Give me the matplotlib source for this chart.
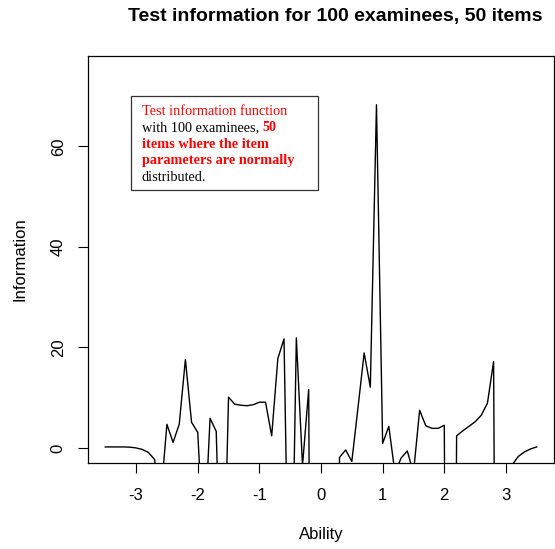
import matplotlib
matplotlib.use("Agg")
import matplotlib.pyplot as plt
from matplotlib.patches import Rectangle

# ability grid and test information
ability = [-3.5, -3.4, -3.3, -3.2, -3.1, -3.0, -2.9, -2.8, -2.7, -2.6,
           -2.5, -2.4, -2.3, -2.2, -2.1, -2.0, -1.9, -1.8, -1.7, -1.6,
           -1.5, -1.4, -1.3, -1.2, -1.1, -1.0, -0.9, -0.8, -0.7, -0.6,
           -0.5, -0.4, -0.3, -0.2, -0.1, 0.0, 0.1, 0.2, 0.3, 0.4,
           0.5, 0.6, 0.7, 0.8, 0.9, 1.0, 1.1, 1.2, 1.3, 1.4,
           1.5, 1.6, 1.7, 1.8, 1.9, 2.0, 2.1, 2.2, 2.3, 2.4,
           2.5, 2.6, 2.7, 2.8, 2.9, 3.0, 3.1, 3.2, 3.3, 3.4, 3.5]
information = [0.2, 0.2, 0.2, 0.2, 0.15, 0.0, -0.3, -0.9, -2.3, -10,
               4.7, 1.1, 4.7, 17.6, 5.1, 3.1, -20, 5.9, 3.3, -40,
               10.1, 8.7, 8.5, 8.4, 8.6, 9.1, 9.1, 2.4, 17.8, 21.7,
               -50, 21.9, -3.5, 11.6, -200, -200, -200, -200, -1.9, -0.4,
               -2.7, 8.0, 18.9, 12.1, 68.3, 0.9, 4.3, -5, -2.0, -0.6,
               -5, 7.5, 4.4, 3.9, 3.9, 4.5, -200, 2.4, 3.4, 4.3,
               5.2, 6.5, 8.9, 17.2, -200, -200, -3.4, -1.7, -0.8, -0.2, 0.2]

x_ticks = [-3, -2, -1, 0, 1, 2, 3]
y_ticks = [0, 20, 40, 60]

W, H = 555, 549
L, R, T, B = 88, 554, 56, 463
fig = plt.figure(figsize=(W / 100, H / 100), dpi=100)
ax = fig.add_axes([L / W, (H - B) / H, (R - L) / W, (B - T) / H])

ax.plot(ability, information, color="black", lw=1.0)
ax.set_xlim(-3.78, 3.78)
ax.set_ylim(-3.0, 78.0)

sans = "Liberation Sans"
ax.set_xticks(x_ticks)
ax.set_xticklabels([str(t) for t in x_ticks], fontsize=12, family=sans)
ax.set_yticks(y_ticks)
ax.set_yticklabels([str(t) for t in y_ticks], fontsize=12, family=sans,
                   rotation=90, va="center")
ax.tick_params(direction="out", length=7, width=0.8)
ax.tick_params(axis="x", pad=11)
ax.tick_params(axis="y", pad=9)
for s in ax.spines.values():
    s.set_linewidth(0.9)

ax.set_xlabel("Ability", fontsize=12, family=sans, labelpad=17)
ax.set_ylabel("Information", fontsize=12, family=sans, labelpad=17)

fig.text(335 / W, 1 - 17 / H, "Test information for 100 examinees, 50 items",
         ha="center", va="center", fontsize=14, fontweight="bold", family=sans)


# annotation box: pixel positions -> axes fraction
def axx(px):
    return (px - L) / (R - L)


def axy(py):
    return (B - py) / (B - T)


ax.add_patch(Rectangle((axx(131), axy(190)), axx(318) - axx(131), axy(96) - axy(190),
                       transform=ax.transAxes, fill=False, edgecolor="#333333",
                       lw=0.9, zorder=3))

fs = 10.25
serif = "Liberation Serif"
base = [115, 131.4, 147.8, 164.2, 180.7]
tx = axx(142)
ax.text(tx, axy(base[0]), "Test information function", color="red",
        fontsize=fs, family=serif, va="baseline", transform=ax.transAxes)
t2 = ax.text(tx, axy(base[1]), "with 100 examinees, ", color="black",
             fontsize=fs, family=serif, va="baseline", transform=ax.transAxes)
ax.annotate("50", xy=(1, 0), xycoords=t2, va="bottom", ha="left", color="red",
            fontsize=fs, family=serif, fontweight="bold")
ax.text(tx, axy(base[2]), "items where the item", color="red", fontweight="bold",
        fontsize=fs, family=serif, va="baseline", transform=ax.transAxes)
ax.text(tx, axy(base[3]), "parameters are normally", color="red", fontweight="bold",
        fontsize=fs, family=serif, va="baseline", transform=ax.transAxes)
ax.text(tx, axy(base[4]), "distributed.", color="black",
        fontsize=fs, family=serif, va="baseline", transform=ax.transAxes)

fig.savefig("out.png", dpi=100)
